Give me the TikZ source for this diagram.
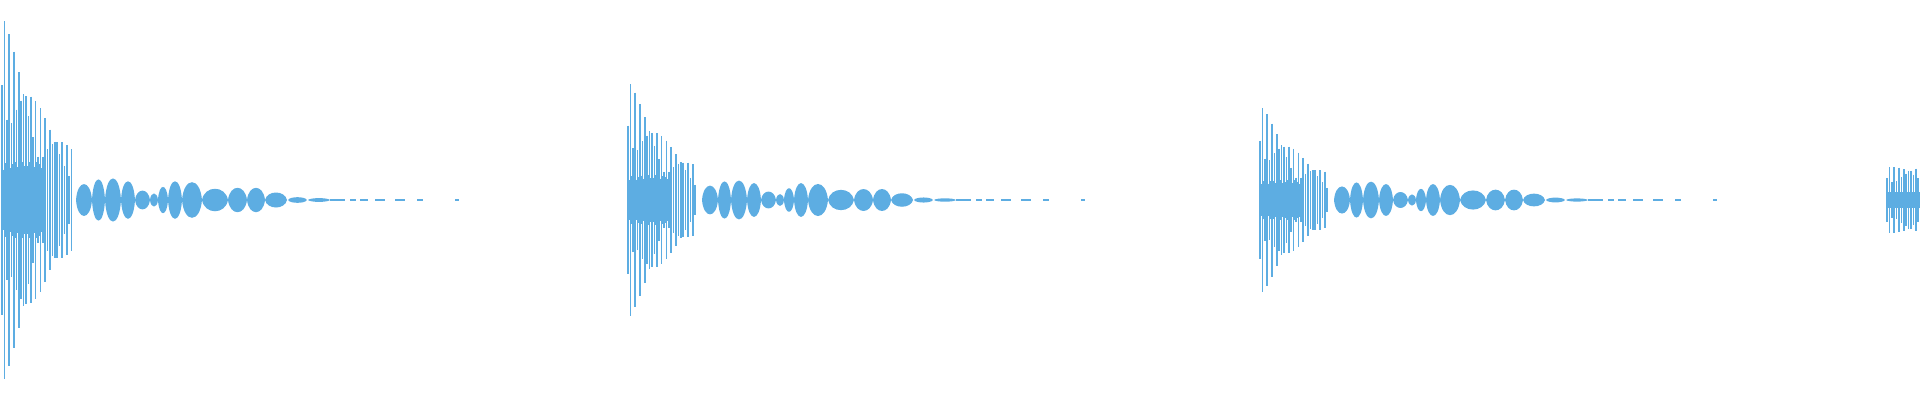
\documentclass[tikz,border=0pt]{standalone}
\definecolor{wave}{RGB}{93,173,226}
\tikzset{spike/.style={draw=wave,line width=1.5pt},lobe/.style={fill=wave,draw=none}}
\newcommand{\wburst}[4]{% x0, amplitude, count, lobe scale
  \foreach \i in {0,...,#3}{
    \pgfmathsetmacro{\xx}{#1+2+2.4*\i}
    \pgfmathsetmacro{\hh}{#2*exp(-\i/22)*(0.4+0.6*abs(sin(\i*83+20)))}
    \draw[spike] (\xx,200-\hh) -- (\xx,200+\hh);
    \pgfmathsetmacro{\hc}{#2*0.2*(0.8+0.2*abs(sin(\i*57)))*(\i<18)}
    \draw[spike] (\xx+1.2,200-\hc) -- (\xx+1.2,200+\hc);
  }
  \foreach \a/\b/\h in {76/92/17,92/105/22,105/121/23,121/135/20,135/150/10,150/158/7,158/168/14,168/182/20,182/202/19,202/228/12,228/247/13,247/265/13,265/287/8,288/307/3,308/330/2}{
    \pgfmathsetmacro{\hs}{1.25*\h*#4}
    \fill[lobe] (#1+\a,200) .. controls (#1+\a+0.1*\b-0.1*\a,200+\hs) and (#1+\b-0.1*\b+0.1*\a,200+\hs) .. (#1+\b,200)
      .. controls (#1+\b-0.1*\b+0.1*\a,200-\hs) and (#1+\a+0.1*\b-0.1*\a,200-\hs) .. cycle;
  }
  \foreach \a/\b in {330/345,350/356,360/368,375/385,395/405,417/423,455/459}{
    \fill[wave] (#1+\a,199.3) rectangle (#1+\b,200.7);
  }
}
\begin{document}
\begin{tikzpicture}[x=1pt,y=-1pt]
\useasboundingbox (0,0) rectangle (1920,400);
\wburst{0}{190}{29}{1}
\wburst{626}{123}{28}{0.9}
\wburst{1258}{98}{28}{0.85}
\foreach \i in {0,...,14}{
  \pgfmathsetmacro{\xx}{1887+2.4*\i}
  \pgfmathsetmacro{\hh}{33*(0.5+0.5*abs(sin(\i*83+20)))}
  \draw[spike] (\xx,200-\hh) -- (\xx,200+\hh);
  \draw[spike] (\xx+1.2,192) -- (\xx+1.2,208);
}
\end{tikzpicture}
\end{document}
